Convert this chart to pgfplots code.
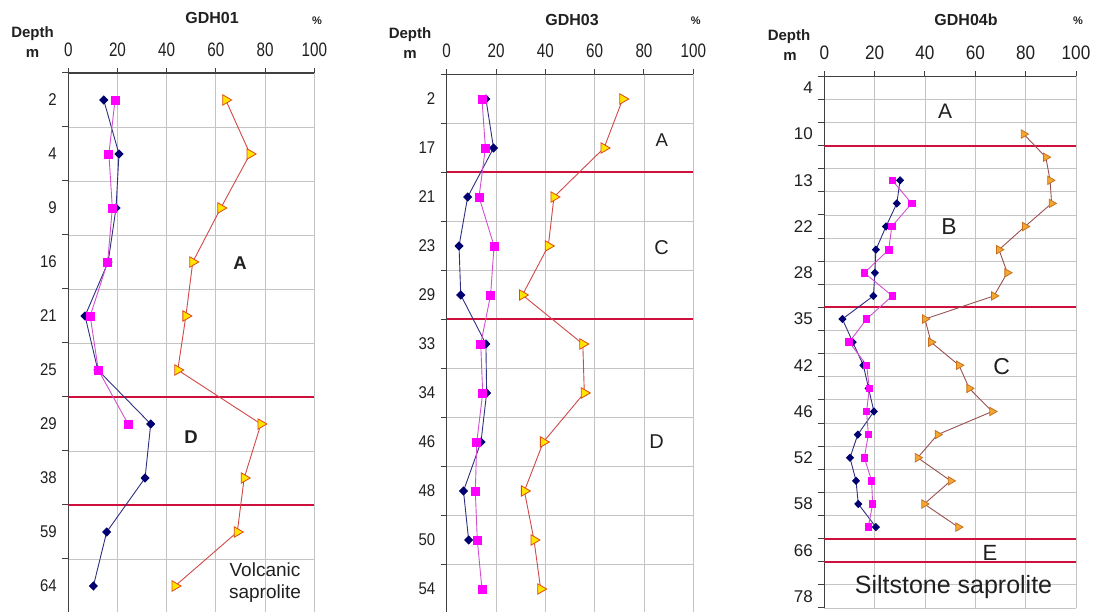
\documentclass[border=0pt]{standalone}
\usepackage{fontspec}
\setmainfont{Liberation Sans}
\newfontfamily\nA[FakeStretch=0.78]{Liberation Sans}
\newfontfamily\nB[FakeStretch=0.88]{Liberation Sans}
\usepackage{pgfplots}
\pgfplotsset{compat=1.18}
\definecolor{gridc}{HTML}{C4C4C4}
\definecolor{axc}{HTML}{404040}
\definecolor{navyc}{HTML}{000070}
\definecolor{navyl}{HTML}{303080}
\definecolor{magc}{HTML}{FF00FF}
\definecolor{magl}{HTML}{D050D0}
\definecolor{trifill}{HTML}{FFE600}
\definecolor{tridraw}{HTML}{E04A10}
\definecolor{tril}{HTML}{D04848}
\definecolor{trifillb}{HTML}{F5A830}
\definecolor{tridrawb}{HTML}{C87020}
\definecolor{trilb}{HTML}{985050}
\definecolor{redl}{HTML}{D0103C}
\definecolor{txt}{HTML}{202020}
\pgfplotsset{
  panel/.style={
    scale only axis,
    xmin=0, xmax=100,
    axis x line*=top, axis y line*=left,
    xtick={0,20,...,100},
    xmajorgrids, yminorgrids,
    grid style={gridc, line width=0.9pt},
    axis line style={axc, line width=1.2pt},
    tick style={axc, line width=1pt},
    tick align=outside,
    major tick length=5pt, minor tick length=6pt,
    major y tick style={draw=none},
    tick label style={text=txt},
    xticklabel style={yshift=8pt},
    yticklabel style={xshift=-3pt},
    /pgf/number format/assume math mode=true,
  },
  dia/.style={navyl, line width=0.9pt, mark=diamond*, mark size=#1, mark options={solid, fill=navyc, draw=navyc, xscale=1.3}},
  sqr/.style={magl, line width=0.9pt, mark=square*, mark size=#1, mark options={solid, fill=magc, draw=magc}},
  tri/.style={tril, line width=0.9pt, mark=triangle*, mark size=#1, mark options={solid, rotate=-90, fill=trifill, draw=tridraw, line width=0.8pt}},
  trib/.style={trilb, line width=0.9pt, mark=triangle*, mark size=#1, mark options={solid, rotate=-90, fill=trifillb, draw=tridrawb, line width=0.8pt}},
}
\begin{document}
\begin{tikzpicture}[x=1pt,y=1pt]
% ---------------- GDH01 ----------------
\begin{axis}[panel, at={(68.3pt,-1pt)}, anchor=south west, width=246pt, height=540pt,
  ymin=-9.5, ymax=0.5, ytick={0,-1,...,-9}, yticklabels={2,4,9,16,21,25,29,38,59,64},
  minor ytick={-9.5,-8.5,...,0.5},
  xticklabel style={font=\nA\fontsize{19.5}{19.5}\selectfont},
  yticklabel style={font=\nB\fontsize{17}{17}\selectfont}]
\draw[redl, line width=2pt] (axis cs:0,-5.5) -- (axis cs:100,-5.5);
\draw[redl, line width=2pt] (axis cs:0,-7.5) -- (axis cs:100,-7.5);
\addplot[tri=6pt] coordinates {(64,0) (73.9,-1) (62,-2) (50.6,-3) (47.8,-4) (44.5,-5) (78.3,-6) (71.5,-7) (68.7,-8) (43.4,-9)};
\addplot[dia=4pt] coordinates {(14.4,0) (20.6,-1) (19.4,-2) (16.2,-3) (6.8,-4) (12,-5) (33.5,-6) (31.2,-7) (15.6,-8) (10.2,-9)};
\addplot[sqr=4pt] coordinates {(19,0) (16.5,-1) (17.9,-2) (16,-3) (8.9,-4) (12.2,-5) (24.3,-6)};
\end{axis}
% ---------------- GDH03 ----------------
\begin{axis}[panel, at={(446.7pt,-1.5pt)}, anchor=south west, width=246.6pt, height=539pt,
  ymin=-10.5, ymax=0.5, ytick={0,-1,...,-10}, yticklabels={2,17,21,23,29,33,34,46,48,50,54},
  minor ytick={-10.5,-9.5,...,0.5},
  xticklabel style={font=\nA\fontsize{19.5}{19.5}\selectfont},
  yticklabel style={font=\nB\fontsize{17}{17}\selectfont}]
\draw[redl, line width=2pt] (axis cs:0,-1.5) -- (axis cs:100,-1.5);
\draw[redl, line width=2pt] (axis cs:0,-4.5) -- (axis cs:100,-4.5);
\addplot[tri=6pt] coordinates {(71.4,0) (63.8,-1) (43.5,-2) (41.2,-3) (30.7,-4) (55.2,-5) (55.8,-6) (39.2,-7) (31.5,-8) (35.4,-9) (38.1,-10)};
\addplot[dia=4pt] coordinates {(15.9,0) (19,-1) (8.5,-2) (5,-3) (5.7,-4) (15.9,-5) (16.2,-6) (13.9,-7) (6.8,-8) (8.9,-9)};
\addplot[sqr=4pt] coordinates {(14.3,0) (15.7,-1) (13.1,-2) (19.2,-3) (17.8,-4) (13.8,-5) (14.6,-6) (12.2,-7) (11.6,-8) (12.4,-9) (14.3,-10)};
\end{axis}
% ---------------- GDH04b ----------------
\begin{axis}[panel, at={(824.3pt,4pt)}, anchor=south west, width=251.7pt, height=531.7pt,
  ymin=-22.5, ymax=0.5, ytick={0,-2,...,-22}, yticklabels={4,10,13,22,28,35,42,46,52,58,66,78},
  minor ytick={-22.5,-21.5,...,0.5},
  xticklabel style={font=\nB\fontsize{19.5}{19.5}\selectfont},
  yticklabel style={font=\fontsize{17}{17}\selectfont}]
\draw[redl, line width=2pt] (axis cs:0,-2.5) -- (axis cs:100,-2.5);
\draw[redl, line width=2pt] (axis cs:0,-9.5) -- (axis cs:100,-9.5);
\draw[redl, line width=2pt] (axis cs:0,-19.5) -- (axis cs:100,-19.5);
\draw[redl, line width=2pt] (axis cs:0,-20.5) -- (axis cs:100,-20.5);
\addplot[trib=4.8pt] coordinates {(79.2,-2) (88,-3) (89.7,-4) (90.3,-5) (79.7,-6) (69.4,-7) (72.7,-8) (67.4,-9) (40,-10) (42.4,-11) (53.5,-12) (57.6,-13) (66.7,-14) (45,-15) (37.1,-16) (50.2,-17) (39.7,-18) (53.2,-19)};
\addplot[dia=3.5pt] coordinates {(30.1,-4) (28.8,-5) (24.5,-6) (20.5,-7) (20.1,-8) (19.5,-9) (7.2,-10) (11.3,-11) (15.5,-12) (17.6,-13) (19.7,-14) (13.3,-15) (10.2,-16) (12.6,-17) (13.5,-18) (20.5,-19)};
\addplot[sqr=3.3pt] coordinates {(27,-4) (34.7,-5) (26.8,-6) (25.6,-7) (15.9,-8) (27,-9) (16.8,-10) (9.9,-11) (16.8,-12) (17.9,-13) (16.8,-14) (17.5,-15) (15.9,-16) (18.8,-17) (19.2,-18) (17.5,-19)};
\end{axis}
% ---------------- texts ----------------
\begin{scope}[every node/.style={inner sep=0pt, anchor=base, text=txt}]
% panel 1
\node[font=\bfseries\fontsize{16}{16}\selectfont] at (212,588) {GDH01};
\node[font=\bfseries\fontsize{11}{11}\selectfont] at (317,587) {\%};
\node[font=\bfseries\fontsize{15}{15}\selectfont] at (32.5,574.7) {Depth};
\node[font=\bfseries\fontsize{15}{15}\selectfont] at (32.5,554.7) {m};
\node[font=\bfseries\fontsize{18.5}{18.5}\selectfont] at (240,342) {A};
\node[font=\bfseries\fontsize{18.5}{18.5}\selectfont] at (191,168.7) {D};
\node[font=\fontsize{19}{19}\selectfont] at (265,35.3) {Volcanic};
\node[font=\fontsize{19}{19}\selectfont] at (265,13) {saprolite};
% panel 2
\node[font=\bfseries\fontsize{16}{16}\selectfont] at (572,586) {GDH03};
\node[font=\bfseries\fontsize{11}{11}\selectfont] at (695.7,587) {\%};
\node[font=\bfseries\fontsize{15}{15}\selectfont] at (410,573.7) {Depth};
\node[font=\bfseries\fontsize{15}{15}\selectfont] at (410,553.7) {m};
\node[font=\fontsize{18.5}{18.5}\selectfont] at (661.7,465.3) {A};
\node[font=\fontsize{20}{20}\selectfont] at (661.7,357) {C};
\node[font=\fontsize{20}{20}\selectfont] at (656.7,163.7) {D};
% panel 3
\node[font=\bfseries\fontsize{16}{16}\selectfont] at (966,586) {GDH04b};
\node[font=\bfseries\fontsize{11}{11}\selectfont] at (1078,587) {\%};
\node[font=\bfseries\fontsize{15}{15}\selectfont] at (789,571.3) {Depth};
\node[font=\bfseries\fontsize{15}{15}\selectfont] at (790,551.3) {m};
\node[font=\fontsize{21}{21}\selectfont] at (945,493.7) {A};
\node[font=\fontsize{23}{23}\selectfont] at (949,377) {B};
\node[font=\fontsize{23}{23}\selectfont] at (1001.7,237) {C};
\node[font=\fontsize{22}{22}\selectfont] at (990,51.3) {E};
\node[font=\fontsize{25}{25}\selectfont] at (953.5,18.7) {Siltstone saprolite};
\end{scope}
\pgfresetboundingbox
\path[use as bounding box] (0,0) rectangle (1095,612);
\end{tikzpicture}
\end{document}
